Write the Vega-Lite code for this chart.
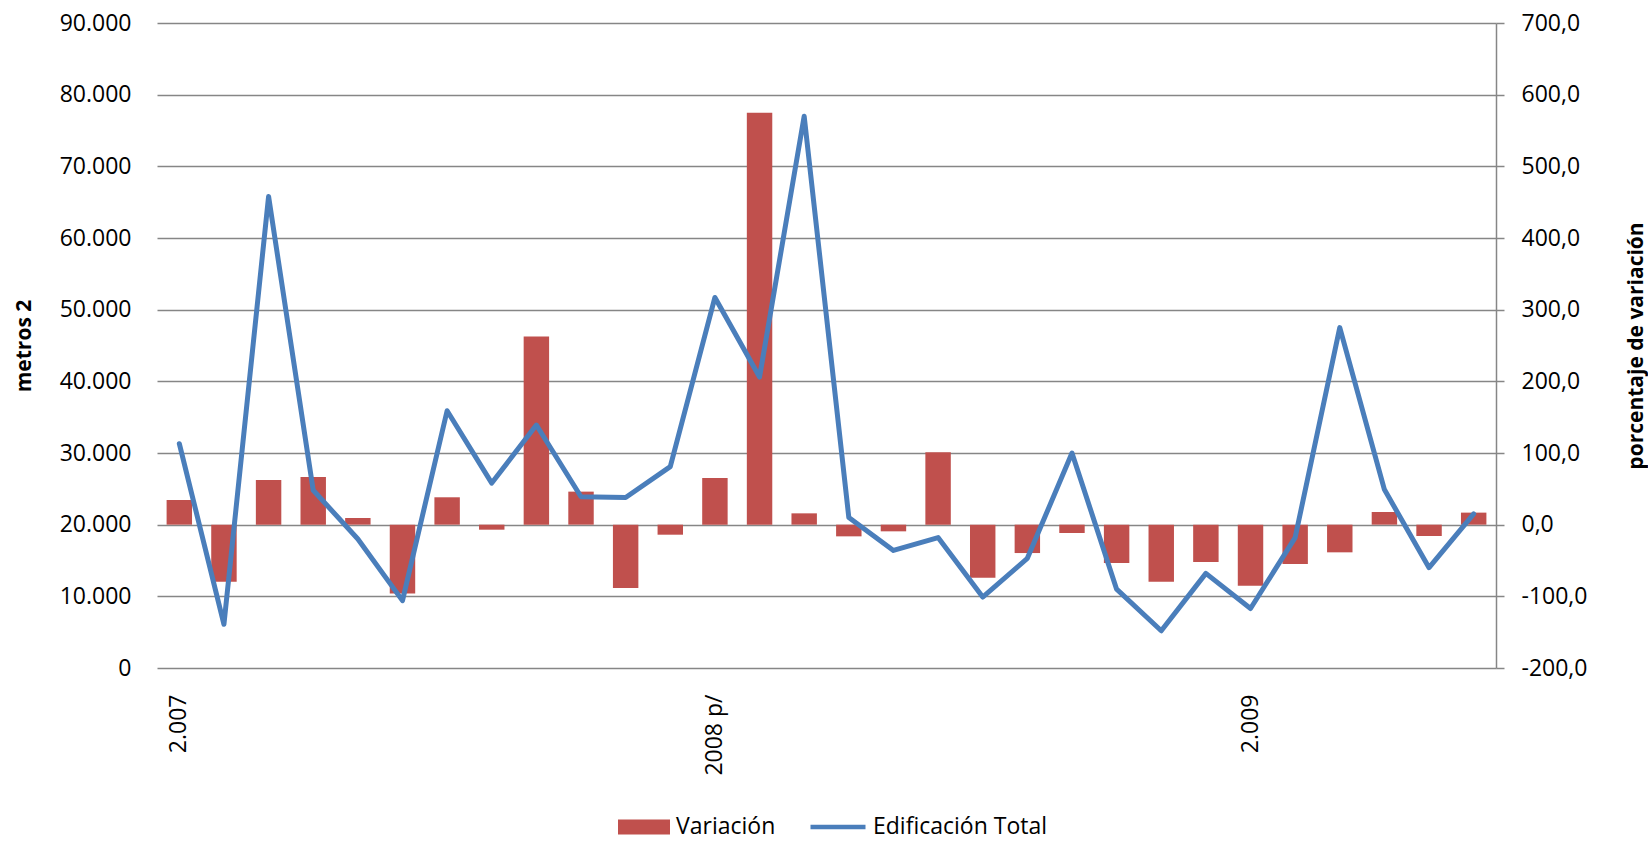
{
  "$schema": "https://vega.github.io/schema/vega-lite/v6.json",
  "width": 1339,
  "height": 645,
  "autosize": {"type": "none"},
  "padding": {"left": 157, "top": 23, "right": 152, "bottom": 174},
  "background": "white",
  "config": {
    "font": "Open Sans",
    "view": {"stroke": null},
    "axis": {"labelFont": "Open Sans", "labelFontSize": 23, "labelColor": "#000000", "titleFont": "Open Sans", "titleFontSize": 21, "titleFontWeight": "bold", "titleColor": "#000000"},
    "legend": {"labelFont": "Open Sans", "labelFontSize": 23, "labelColor": "#000000", "padding": 0, "labelLimit": 400}
  },
  "data": {
    "values": [
      {"periodo": "2007-01", "edificacion": 31300, "variacion": 34.4},
      {"periodo": "2007-02", "edificacion": 6100, "variacion": -79.6},
      {"periodo": "2007-03", "edificacion": 65800, "variacion": 62.4},
      {"periodo": "2007-04", "edificacion": 24800, "variacion": 66.6},
      {"periodo": "2007-05", "edificacion": 18000, "variacion": 9.3},
      {"periodo": "2007-06", "edificacion": 9400, "variacion": -95.9},
      {"periodo": "2007-07", "edificacion": 35900, "variacion": 38.2},
      {"periodo": "2007-08", "edificacion": 25800, "variacion": -7.0},
      {"periodo": "2007-09", "edificacion": 33900, "variacion": 262.6},
      {"periodo": "2007-10", "edificacion": 23900, "variacion": 46.1},
      {"periodo": "2007-11", "edificacion": 23800, "variacion": -88.5},
      {"periodo": "2007-12", "edificacion": 28100, "variacion": -14.0},
      {"periodo": "2008-01", "edificacion": 51700, "variacion": 65.2},
      {"periodo": "2008-02", "edificacion": 40600, "variacion": 574.6},
      {"periodo": "2008-03", "edificacion": 77000, "variacion": 15.8},
      {"periodo": "2008-04", "edificacion": 21000, "variacion": -16.3},
      {"periodo": "2008-05", "edificacion": 16400, "variacion": -9.3},
      {"periodo": "2008-06", "edificacion": 18200, "variacion": 101.0},
      {"periodo": "2008-07", "edificacion": 9900, "variacion": -74.0},
      {"periodo": "2008-08", "edificacion": 15300, "variacion": -39.6},
      {"periodo": "2008-09", "edificacion": 30000, "variacion": -11.6},
      {"periodo": "2008-10", "edificacion": 11000, "variacion": -53.5},
      {"periodo": "2008-11", "edificacion": 5200, "variacion": -79.6},
      {"periodo": "2008-12", "edificacion": 13200, "variacion": -52.1},
      {"periodo": "2009-01", "edificacion": 8300, "variacion": -85.2},
      {"periodo": "2009-02", "edificacion": 18200, "variacion": -54.9},
      {"periodo": "2009-03", "edificacion": 47500, "variacion": -38.6},
      {"periodo": "2009-04", "edificacion": 24900, "variacion": 17.7},
      {"periodo": "2009-05", "edificacion": 14000, "variacion": -15.8},
      {"periodo": "2009-06", "edificacion": 21500, "variacion": 16.8}
    ]
  },
  "encoding": {
    "x": {
      "field": "periodo",
      "type": "nominal",
      "sort": null,
      "scale": {"paddingInner": 0, "paddingOuter": 0},
      "axis": {
        "title": null,
        "domain": false,
        "ticks": false,
        "grid": false,
        "labelAngle": -90,
        "labelAlign": "right",
        "labelBaseline": "middle",
        "labelPadding": 26,
        "labelExpr": "datum.value == '2007-01' ? '2.007' : datum.value == '2008-01' ? '2008 p/' : datum.value == '2009-01' ? '2.009' : ''"
      }
    }
  },
  "layer": [
    {
      "mark": {"type": "bar", "width": {"band": 0.57}},
      "encoding": {
        "y": {
          "field": "variacion",
          "type": "quantitative",
          "scale": {"domain": [-200, 700], "nice": false, "zero": false},
          "axis": {
            "orient": "right",
            "title": "porcentaje de variación",
            "titleAngle": 270,
            "titlePadding": 60,
            "values": [-200, -100, 0, 100, 200, 300, 400, 500, 600, 700],
            "labelExpr": "(datum.value < 0 ? '-' : '') + replace(format(abs(datum.value), '.1f'), '.', ',')",
            "grid": false,
            "domain": true,
            "domainColor": "#868686",
            "domainWidth": 1.5,
            "ticks": true,
            "tickColor": "#868686",
            "tickWidth": 1.5,
            "tickSize": 8,
            "labelPadding": 17
          }
        },
        "fill": {
          "datum": "Variación",
          "type": "nominal",
          "scale": {"range": ["#C0504D"]},
          "legend": {
            "title": null,
            "orient": "none",
            "legendX": 461,
            "legendY": 791,
            "direction": "horizontal",
            "symbolType": "M-1,-0.29H1V0.29H-1Z",
            "symbolSize": 2704,
            "symbolStrokeWidth": 0,
            "clipHeight": 26,
            "labelOffset": 6,
            "labelLimit": 400
          }
        }
      }
    },
    {
      "mark": {"type": "line", "strokeWidth": 5, "strokeJoin": "round", "strokeCap": "round"},
      "encoding": {
        "x": {"field": "periodo", "type": "nominal", "sort": null, "bandPosition": 0.5},
        "y": {
          "field": "edificacion",
          "type": "quantitative",
          "scale": {"domain": [0, 90000], "nice": false},
          "axis": {
            "orient": "left",
            "title": "metros 2",
            "titlePadding": 25,
            "values": [0, 10000, 20000, 30000, 40000, 50000, 60000, 70000, 80000, 90000],
            "labelExpr": "replace(format(datum.value, ','), ',', '.')",
            "grid": true,
            "gridColor": "#868686",
            "gridWidth": 1.5,
            "domain": false,
            "ticks": false,
            "labelPadding": 26
          }
        },
        "stroke": {
          "datum": "Edificación Total",
          "type": "nominal",
          "scale": {"range": ["#4A7EBB"]},
          "legend": {
            "title": null,
            "orient": "none",
            "legendX": 651,
            "legendY": 791,
            "direction": "horizontal",
            "symbolType": "stroke",
            "symbolSize": 3025,
            "symbolStrokeWidth": 4.5,
            "clipHeight": 26,
            "labelOffset": 5,
            "labelLimit": 400
          }
        }
      }
    }
  ],
  "resolve": {"scale": {"y": "independent"}}
}
